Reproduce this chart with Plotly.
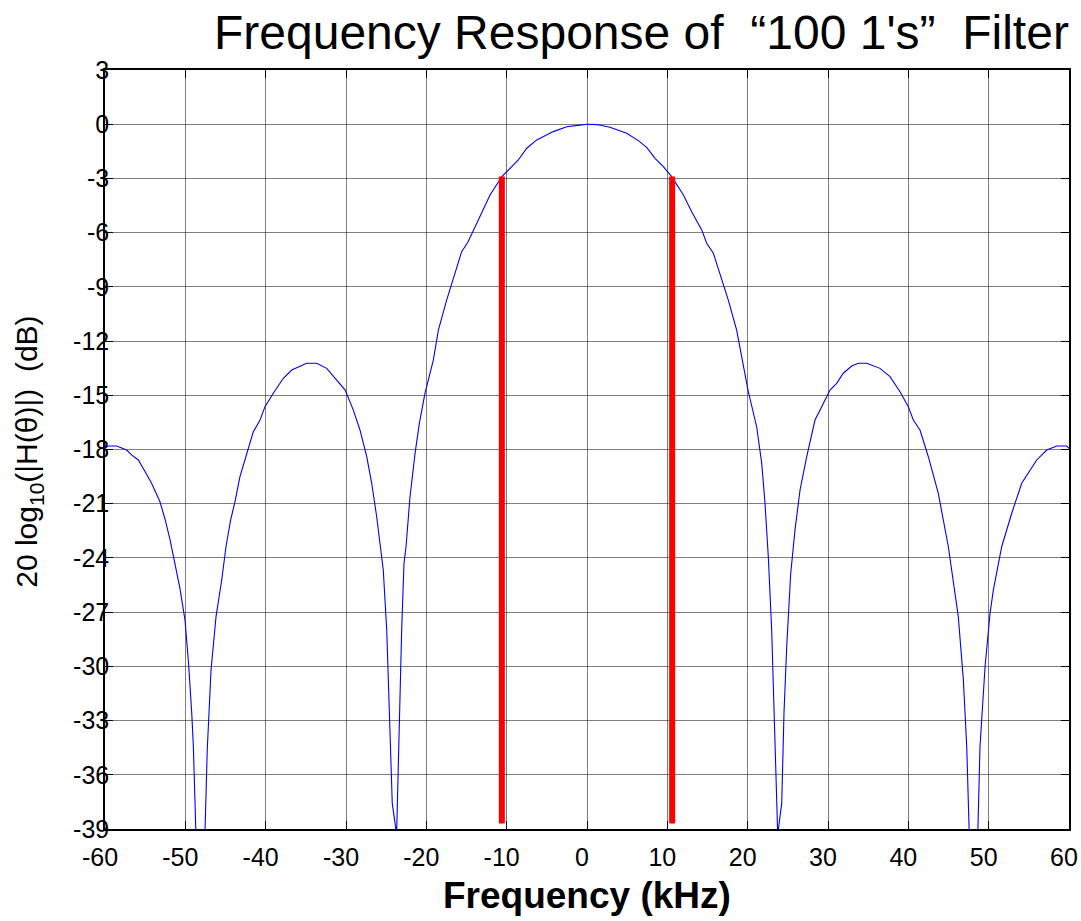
import plotly.graph_objects as go

# Frequency response samples (kHz, dB)
freq_khz = [-60, -59.6, -58.55, -57.3, -56.7, -55.85, -55.0, -54.2, -53.16, -52.5,
            -51.9, -51.3, -50.67, -50.04, -49.6, -49.2, -49.0, -48.1, -47.27, -46.8,
            -46.18, -45.47, -44.94, -44.36, -43.82, -43.2, -42.37, -41.54, -40.7, -40.08,
            -39.05, -37.8, -36.76, -35.5, -34.9, -33.65, -32.4, -31.16, -30.1, -29.09,
            -28.26, -27.42, -26.8, -26.18, -25.36, -24.93, -24.6, -24.24, -23.7, -23.4,
            -23.07, -22.78, -22.53, -22.03, -21.4, -20.87, -20.17, -19.13, -18.5, -17.47,
            -15.6, -14.8, -13.3, -12.07, -10.6, -8.55, -7.5, -6.26, -4.19, -2.53,
            -0.87, 0.0, 1.2, 2.86, 4.94, 6.39, 7.43, 8.47, 9.5, 10.54,
            12.0, 13.03, 14.28, 14.9, 15.73, 17.59, 18.63, 20.08, 21.12, 21.75,
            22.16, 22.57, 22.99, 23.28, 23.53, 23.74, 24.24, 24.52, 24.86, 25.36,
            25.89, 26.52, 27.35, 28.38, 29.22, 30.25, 31.08, 31.9, 32.95, 33.77,
            34.82, 36.47, 37.72, 38.96, 40.0, 40.62, 41.45, 42.49, 43.73, 44.98,
            46.22, 46.85, 47.27, 48.15, 48.92, 49.55, 50.17, 50.58, 51.62, 52.87,
            54.11, 55.98, 57.23, 58.47, 59.72, 60.0]
gain_db = [-17.94, -17.81, -17.81, -18.03, -18.3, -18.58, -19.23, -19.87, -20.89, -21.9,
           -23.0, -24.3, -25.68, -27.44, -29.83, -32.6, -34.45, -48.0, -34.6, -30.2,
           -27.25, -25.22, -23.38, -21.9, -20.89, -19.5, -18.21, -17.02, -16.37, -15.63,
           -14.89, -14.06, -13.6, -13.33, -13.23, -13.23, -13.51, -14.16, -14.71, -15.82,
           -16.92, -18.4, -19.87, -21.72, -24.67, -27.99, -32.6, -37.58, -39.3, -33.5,
           -27.99, -24.3, -23.38, -20.6, -18.2, -16.55, -14.89, -13.05, -11.39, -9.73,
           -7.05, -6.5, -5.12, -3.92, -2.9, -1.98, -1.33, -0.87, -0.41, -0.14,
           -0.05, 0.0, -0.02, -0.17, -0.5, -0.91, -1.28, -1.89, -2.35, -2.9,
           -3.92, -4.84, -5.85, -6.59, -7.14, -9.73, -11.39, -14.8, -16.74, -18.77,
           -20.98, -23.93, -27.99, -32.6, -37.21, -39.3, -37.58, -32.6, -28.91, -24.85,
           -22.46, -20.24, -18.4, -16.37, -15.63, -14.71, -14.34, -13.78, -13.38, -13.23,
           -13.23, -13.51, -13.97, -14.8, -15.63, -16.37, -16.92, -18.4, -20.43, -23.38,
           -27.25, -30.75, -34.45, -48.0, -34.45, -30.02, -27.07, -25.78, -23.38, -21.53,
           -19.87, -18.58, -18.03, -17.81, -17.81, -17.94]

# -3 dB band edge markers
edge_khz = [-10.6, 10.6]
edge_top_db = -2.9
edge_bottom_db = -38.7

x_ticks = [-60, -50, -40, -30, -20, -10, 0, 10, 20, 30, 40, 50, 60]
y_ticks = [3, 0, -3, -6, -9, -12, -15, -18, -21, -24, -27, -30, -33, -36, -39]

FONT = "Arial, 'Liberation Sans', sans-serif"

fig = go.Figure()
fig.add_trace(go.Scatter(x=freq_khz, y=gain_db, mode="lines",
                         line=dict(color="#0000ff", width=1.1), showlegend=False))
for xe in edge_khz:
    fig.add_trace(go.Scatter(x=[xe, xe], y=[edge_top_db, edge_bottom_db], mode="lines",
                             line=dict(color="#ff0000", width=6), showlegend=False))

axis_common = dict(showline=True, linecolor="black", linewidth=1.5, mirror="ticks",
                   ticks="inside", ticklen=8, tickcolor="black", tickwidth=1,
                   showgrid=True, gridcolor="rgba(0,0,0,0.5)", gridwidth=1,
                   zeroline=False, automargin=False, ticklabeloverflow="allow",
                   tickfont=dict(family=FONT, size=25, color="black"))

fig.update_xaxes(range=[-60, 60], tickvals=x_ticks, ticktext=[str(v) for v in x_ticks],
                 ticklabelstandoff=5, ticklabelshift=-5, **axis_common)
fig.update_yaxes(range=[-39, 3], tickvals=y_ticks, ticktext=[str(v) for v in y_ticks],
                 ticklabelstandoff=-11, **axis_common)

fig.update_layout(
    width=1081, height=921, autosize=False,
    margin=dict(l=105, r=12, t=70, b=92, autoexpand=False),
    paper_bgcolor="white", plot_bgcolor="white",
    font=dict(family=FONT, color="black"),
    annotations=[
        dict(text="Frequency Response of\u00a0\u00a0“100 1's”\u00a0\u00a0Filter",
             xref="paper", yref="paper", x=(1071 - 105) / 964, y=1.0 + 37 / 759,
             xanchor="right", yanchor="middle", showarrow=False,
             font=dict(family=FONT, size=48, color="black")),
        dict(text="20 log<sub>10</sub>(|H(θ)|)\u00a0\u00a0(dB)",
             xref="paper", yref="paper", x=-76 / 964, y=0.497,
             xanchor="center", yanchor="middle", textangle=-90, showarrow=False,
             font=dict(family=FONT, size=30, color="black")),
        dict(text="<b>Frequency (kHz)</b>",
             xref="paper", yref="paper", x=0.5, y=-66 / 759,
             xanchor="center", yanchor="middle", showarrow=False,
             font=dict(family=FONT, size=37, color="black")),
    ],
)

fig.write_html("out.html", config={"displayModeBar": False},
               post_script="document.body.style.margin='0';document.body.style.padding='0';")
